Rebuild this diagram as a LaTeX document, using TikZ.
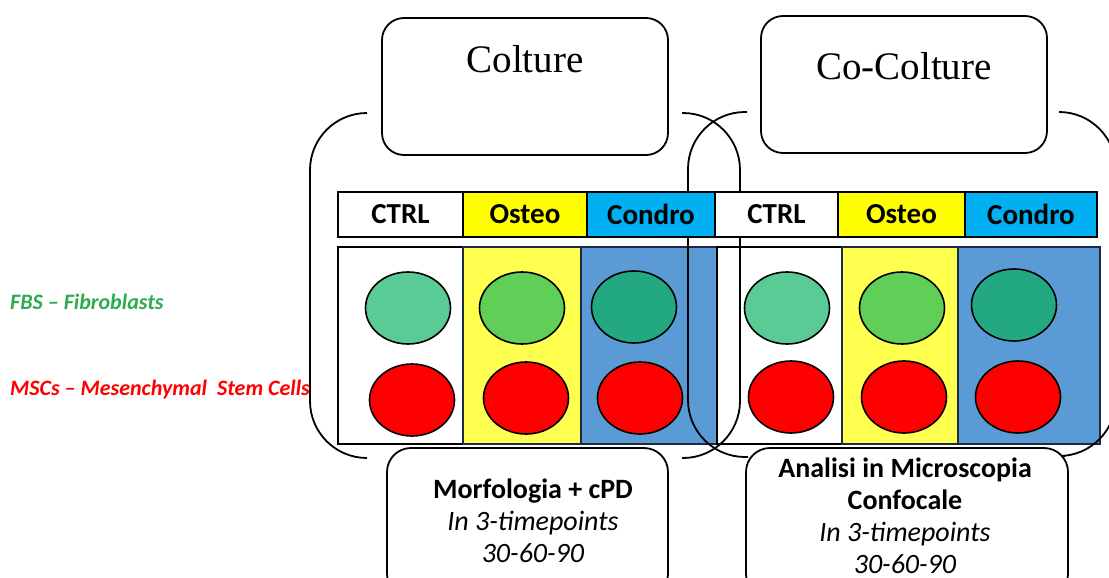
\documentclass[tikz,border=0pt]{standalone}
\usepackage{fontspec}
\setmainfont{Carlito}
\newfontfamily\titlefont{Liberation Serif}
\usetikzlibrary{positioning,shapes.geometric}

\definecolor{hdryellow}{HTML}{FFFF00}
\definecolor{hdrblue}{HTML}{00B0F0}
\definecolor{bodyyellow}{HTML}{FFFF50}
\definecolor{bodyblue}{HTML}{5B9BD5}
\definecolor{cellnavy}{HTML}{1C2B45}
\definecolor{greenctrl}{HTML}{5ACB95}
\definecolor{greenosteo}{HTML}{5FCF58}
\definecolor{greencondro}{HTML}{22A982}
\definecolor{fbsgreen}{HTML}{2EAA50}

\tikzset{
	hdrcell/.style={draw, line width=2.5pt, minimum height=45pt, inner sep=0pt, outer sep=0pt, font=\fontsize{29}{32}\selectfont\bfseries},
	bodycell/.style={draw=cellnavy, line width=1.6pt, minimum height=197pt, inner sep=0pt, outer sep=0pt},
	cellblob/.style={ellipse, draw, line width=1.6pt, minimum width=85pt, minimum height=72pt, inner sep=0pt},
	titlebox/.style={draw, line width=1.8pt, rounded corners=22pt, fill=white, inner sep=0pt},
	titletext/.style={inner sep=0pt, font=\titlefont\fontsize{39}{44}\selectfont},
	notebox/.style={draw, line width=1.8pt, rounded corners=24pt, fill=white, inner sep=0pt},
	notetext/.style={inner sep=0pt, align=center, font=\fontsize{28}{32}\selectfont},
	sidelabel/.style={inner sep=0pt, anchor=west, font=\fontsize{22}{24}\selectfont\bfseries\itshape},
	bracket/.style={line width=1.8pt, rounded corners=57pt},
}

\begin{document}
\begin{tikzpicture}[x=1pt, y=-1pt]
		\path[use as bounding box, clip] (0,0) rectangle (1109,578);
		
		\node[bodycell, draw=black, minimum width=125pt] (bctrlA) at (400.5,345.5) {};
		\node[bodycell, fill=bodyyellow, minimum width=118pt, right=0pt of bctrlA] (bosteoA) {};
		\node[bodycell, fill=bodyblue, minimum width=136pt, right=0pt of bosteoA] (bcondroA) {};
		\node[bodycell, draw=black, minimum width=125pt, right=0pt of bcondroA] (bctrlB) {};
		\node[bodycell, fill=bodyyellow, minimum width=116pt, right=0pt of bctrlB] (bosteoB) {};
		\node[bodycell, fill=bodyblue, minimum width=142pt, right=0pt of bosteoB] (bcondroB) {};
		
		\node[cellblob, fill=greenctrl] (fbsctrlA) at (408,308) {};
		\node[cellblob, fill=red] (mscctrlA) at (412,400) {};
		\node[cellblob, fill=greenosteo] (fbsosteoA) at (522,308) {};
		\node[cellblob, fill=red] (mscosteoA) at (526,398) {};
		\node[cellblob, fill=greencondro] (fbscondroA) at (634,307) {};
		\node[cellblob, fill=red] (msccondroA) at (640,398) {};
		\node[cellblob, fill=greenctrl] (fbsctrlB) at (787,308) {};
		\node[cellblob, fill=red] (mscctrlB) at (791,397) {};
		\node[cellblob, fill=greenosteo] (fbsosteoB) at (902,308) {};
		\node[cellblob, fill=red] (mscosteoB) at (904,397) {};
		\node[cellblob, fill=greencondro] (fbscondroB) at (1014,305) {};
		\node[cellblob, fill=red] (msccondroB) at (1018,397) {};
		
		\draw[bracket] (367,113) -- (310,113) -- (310,458) -- (367,458);
		\draw[bracket] (682,113) -- (740,113) -- (740,458) -- (682,458);
		\draw[bracket] (747,112) -- (688,112) -- (688,457) -- (748,457);
		\draw[bracket] (1060,112) -- (1116,112) -- (1116,456) -- (1065,456);
		
		\node[hdrcell, fill=white, minimum width=125pt] (hctrlA) at (400.5,214.5) {CTRL};
		\node[hdrcell, fill=hdryellow, minimum width=124pt, right=0pt of hctrlA] (hosteoA) {Osteo};
		\node[hdrcell, fill=hdrblue, minimum width=128pt, right=0pt of hosteoA] (hcondroA) {Condro};
		\node[hdrcell, fill=white, minimum width=123pt, right=0pt of hcondroA] (hctrlB) {CTRL};
		\node[hdrcell, fill=hdryellow, minimum width=127pt, right=0pt of hctrlB] (hosteoB) {Osteo};
		\node[hdrcell, fill=hdrblue, minimum width=132pt, right=0pt of hosteoB] (hcondroB) {Condro};
		
		\node[titlebox, minimum width=286pt, minimum height=137pt] (colture) at (525,86.5) {};
		\node[titletext, below=28pt of colture.north] {Colture};
		\node[titlebox, minimum width=286pt, minimum height=137pt] (cocolture) at (904,84.5) {};
		\node[titletext, below=37pt of cocolture.north] {Co-Colture};
		
		\node[notebox, minimum width=281pt, minimum height=150pt] (morfbox) at (527.5,523) {};
		\node[notetext] (morf) at (533,521) {\textbf{Morfologia + cPD}\\\textit{In 3-timepoints}\\\textit{30-60-90}};
		\node[notebox, minimum width=322pt, minimum height=150pt] (confbox) at (907,523) {};
		\node[notetext] (conf) at (905,516) {\textbf{Analisi in Microscopia}\\\textbf{Confocale}\\\textit{In 3-timepoints}\\\textit{30-60-90}};
		
		\node[sidelabel, text=fbsgreen] (fbs) at (10,302) {FBS -- Fibroblasts};
		\node[sidelabel, text=red] (msc) at (10,390) {MSCs -- Mesenchymal\ \ Stem Cells};
	\end{tikzpicture}
\end{document}
